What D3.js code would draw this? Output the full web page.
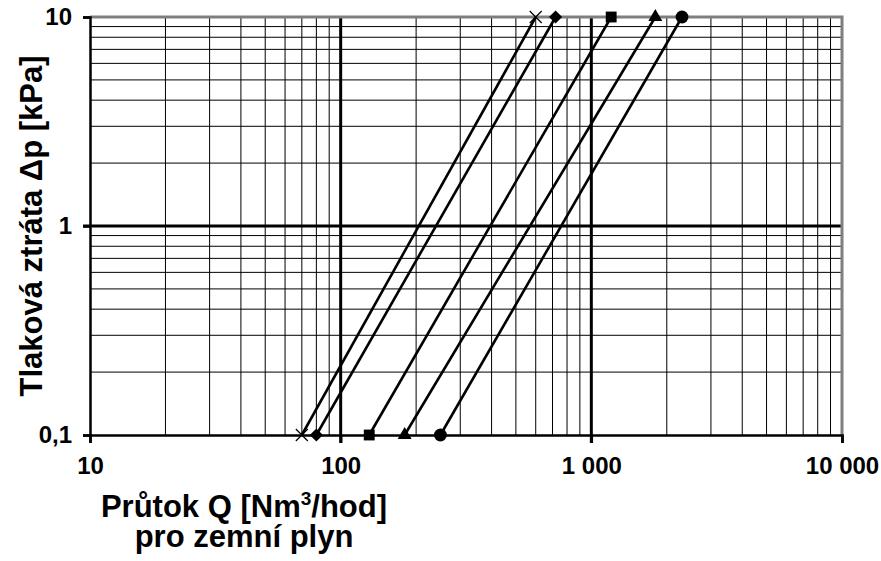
<!DOCTYPE html>
<html>
<head>
<meta charset="utf-8">
<script src="https://cdn.jsdelivr.net/npm/d3@7"></script>
<style>
    body { margin: 0; background: #fff; }
    svg text { font-family: "Liberation Sans", Arial, sans-serif; font-weight: bold; fill: #000; }
</style>
</head>
<body>
<svg width="881" height="561"></svg>
<script>
// pressure drop at the two ends of every line
const dpValues = [0.1, 10];
// flow at dp = 0.1 kPa and at dp = 10 kPa, one entry per line
const flowLow = [70, 80, 130, 180, 250];
const flowHigh = [600, 720, 1200, 1800, 2300];
const markers = ["cross", "diamond", "square", "triangle", "circle"];

const xTicks = [10, 100, 1000, 10000];
const xTickLabels = ["10", "100", "1 000", "10 000"];
const yTicks = [0.1, 1, 10];
const yTickLabels = ["0,1", "1", "10"];

const svg = d3.select("svg");
const plotLeft = 90, plotRight = 842, plotTop = 17, plotBottom = 435;

const x = d3.scaleLog().domain([10, 10000]).range([plotLeft, plotRight]);
const y = d3.scaleLog().domain([0.1, 10]).range([plotBottom, plotTop]);

// minor grid
const minorX = [];
xTicks.slice(0, -1).forEach(d => { for (let k = 2; k < 10; k++) minorX.push(d * k); });
const minorY = [];
yTicks.slice(0, -1).forEach(d => { for (let k = 2; k < 10; k++) minorY.push(+(d * k).toPrecision(3)); });

const grid = svg.append("g");
grid.selectAll(".mx").data(minorX).enter().append("line")
    .attr("x1", d => x(d)).attr("x2", d => x(d))
    .attr("y1", plotTop).attr("y2", plotBottom)
    .attr("stroke", "#000").attr("stroke-width", 1);
grid.selectAll(".my").data(minorY).enter().append("line")
    .attr("y1", d => y(d)).attr("y2", d => y(d))
    .attr("x1", plotLeft).attr("x2", plotRight)
    .attr("stroke", "#000").attr("stroke-width", 1);

// major grid
grid.selectAll(".Mx").data(xTicks.slice(1, -1)).enter().append("line")
    .attr("x1", d => x(d)).attr("x2", d => x(d))
    .attr("y1", plotTop).attr("y2", plotBottom + 8)
    .attr("stroke", "#000").attr("stroke-width", 3);
grid.selectAll(".My").data(yTicks.slice(1, -1)).enter().append("line")
    .attr("y1", d => y(d)).attr("y2", d => y(d))
    .attr("x1", plotLeft - 7).attr("x2", plotRight)
    .attr("stroke", "#000").attr("stroke-width", 3);

// frame: grey top/right, black axes left/bottom
svg.append("path")
    .attr("d", `M${plotLeft},${plotTop}H${plotRight}V${plotBottom}`)
    .attr("fill", "none").attr("stroke", "#7f7f7f").attr("stroke-width", 3);

const xAxis = d3.axisBottom(x).tickValues(xTicks).tickFormat((d, i) => xTickLabels[i])
    .tickSize(8).tickPadding(14);
const gx = svg.append("g").attr("transform", `translate(0,${plotBottom})`).call(xAxis);
gx.select(".domain").attr("stroke-width", 2.5);
gx.selectAll(".tick line").attr("stroke-width", 2.5);
gx.selectAll("text").style("font-size", "24px");

const yAxis = d3.axisLeft(y).tickValues(yTicks).tickFormat((d, i) => yTickLabels[i])
    .tickSize(7).tickPadding(11);
const gy = svg.append("g").attr("transform", `translate(${plotLeft},0)`).call(yAxis);
gy.select(".domain").attr("stroke-width", 2.5);
gy.selectAll(".tick line").attr("stroke-width", 2.5);
gy.selectAll("text").style("font-size", "24px");

// lines
const series = flowLow.map((q, i) => ({
    marker: markers[i],
    points: [{ q: q, dp: dpValues[0] }, { q: flowHigh[i], dp: dpValues[1] }]
}));

const line = d3.line().x(d => x(d.q)).y(d => y(d.dp));
svg.append("g").selectAll("path").data(series).enter().append("path")
    .attr("d", d => line(d.points))
    .attr("fill", "none").attr("stroke", "#000").attr("stroke-width", 2.6);

const symbolType = {
    diamond: d3.symbolDiamond2,
    square: d3.symbolSquare2,
    triangle: d3.symbolTriangle2,
    circle: d3.symbolCircle
};
const symbolSize = { diamond: 110, square: 150, triangle: 140, circle: 130 };

series.forEach(s => {
    const g = svg.append("g");
    s.points.forEach(p => {
        const px = x(p.q), py = y(p.dp);
        if (s.marker === "cross") {
            g.append("path")
                .attr("d", `M${px - 6},${py - 6}L${px + 6},${py + 6}M${px - 6},${py + 6}L${px + 6},${py - 6}`)
                .attr("stroke", "#000").attr("stroke-width", 1.2);
        } else {
            g.append("path")
                .attr("transform", `translate(${px},${py})`)
                .attr("d", d3.symbol(symbolType[s.marker], symbolSize[s.marker])())
                .attr("fill", "#000");
        }
    });
});

// titles
svg.append("text")
    .attr("transform", "translate(42,226) rotate(-90)")
    .attr("text-anchor", "middle")
    .style("font-size", "31px")
    .text("Tlaková ztráta Δp [kPa]");

// two-line x title kept in one text element
const xt = svg.append("text")
    .attr("x", 244).attr("y", 517)
    .attr("text-anchor", "middle")
    .style("font-size", "31px");
xt.append("tspan").text("Průtok Q [Nm");
xt.append("tspan").attr("dy", -12).style("font-size", "19px").text("3");
xt.append("tspan").attr("dy", 12).text("/hod]");
xt.append("tspan").attr("x", 244).attr("dy", 30).text("pro zemní plyn");
</script>
</body>
</html>
